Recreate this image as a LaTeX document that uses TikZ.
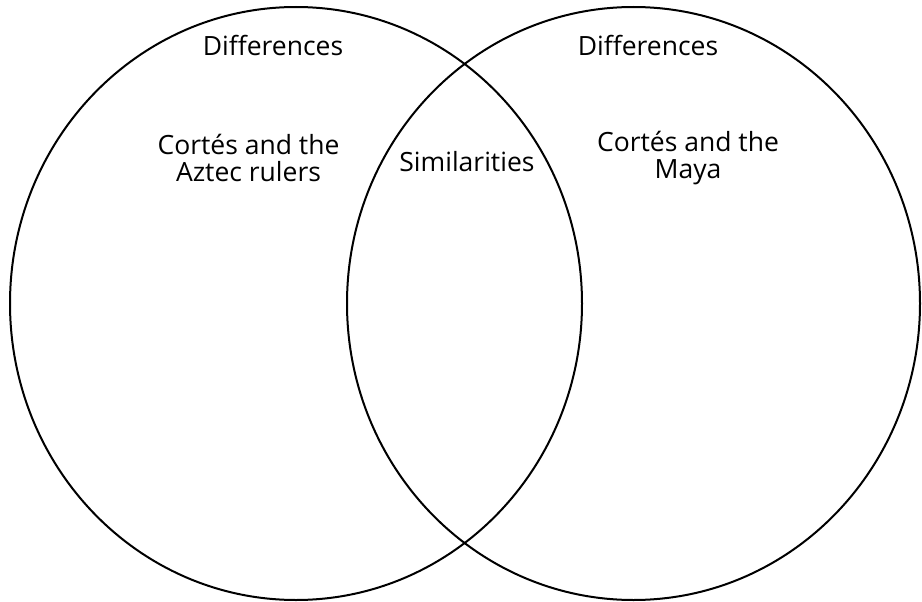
\documentclass[tikz,border=0pt]{standalone}
\usepackage{fontspec}
\setmainfont[Ligatures=NoCommon]{Open Sans}
\usetikzlibrary{positioning}

\tikzset{
	set/.style={line width=2pt},
	label/.style={align=center, inner sep=0pt, font=\fontsize{26.5}{27}\selectfont}
}

\begin{document}
\begin{tikzpicture}[x=1pt, y=-1pt]
			\useasboundingbox (0,0) rectangle (922,602);
			% the two sets
			\draw[set] (296,303.5) ellipse [x radius=286, y radius=296.5];
			\draw[set] (633.5,303.5) ellipse [x radius=286.5, y radius=296.5];
			% labels
			\node[label] (diffaztec) at (273,45) {Differences};
			\node[label] (diffmaya) at (648,45) {Differences};
			\node[label] (aztec) at (248.5,158) {Cortés and the\\Aztec rulers};
			\node[label] (maya) at (688,158) {Cortés and the\\Maya};
			\node[label] (similar) at (467,162) {Similarities};
		\end{tikzpicture}
\end{document}
